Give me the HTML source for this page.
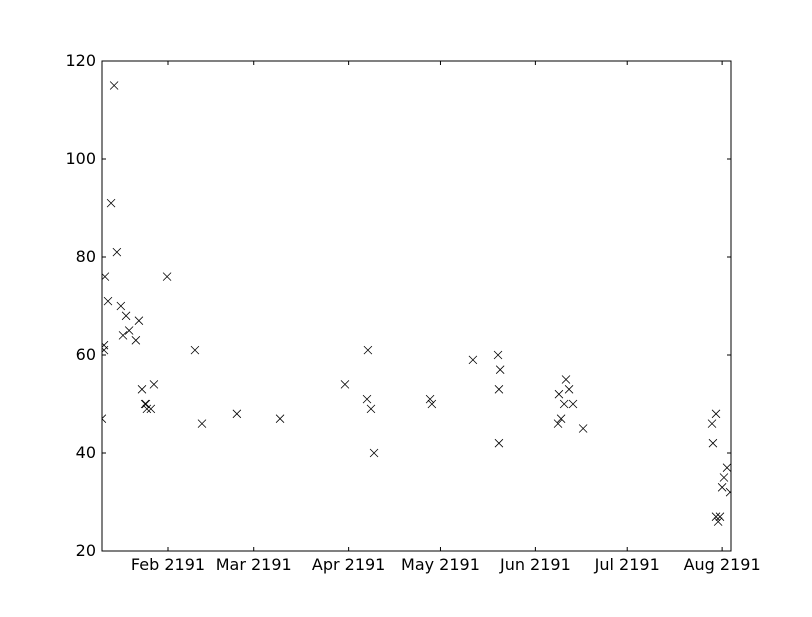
<!DOCTYPE html>
<html><head><meta charset="utf-8"><style>
html,body{margin:0;padding:0;background:#fff;}
svg text{font-family:"DejaVu Sans","Liberation Sans",sans-serif;font-size:16px;fill:#000;}
</style></head><body>
<svg id="chart" width="812" height="612" xmlns="http://www.w3.org/2000/svg">
<defs><clipPath id="plotclip"><rect x="102" y="61" width="629" height="490"/></clipPath></defs>
<rect width="812" height="612" fill="#fff"/>
<g id="marks" clip-path="url(#plotclip)"></g>
<g id="axes"></g>
</svg>
<script>
// day-of-year 2191 (0 = Jan 1)
const days = [9.4,10.1,10.1,10.4,11.4,12.4,13.4,14.3,15.6,16.3,17.3,18.3,20.5,21.5,22.5,23.5,23.8,24.1,25.4,26.4,30.7,39.8,42.1,53.5,67.6,88.8,96,96.3,97.3,98.3,116.6,117.2,130.6,138.8,139.1,139.1,139.5,158.4,158.7,159.4,160.4,161,162,163.3,166.6,208.7,209,210,210,210.7,211.3,212,212.6,213.6,214.6];
const values = [47,61,62,76,71,91,115,81,70,64,68,65,63,67,53,50,50,49,49,54,76,61,46,48,47,54,51,61,49,40,51,50,59,60,42,53,57,46,52,47,50,55,53,50,45,46,42,48,27,26,27,33,35,37,32];
const yTicks = [20,40,60,80,100,120];
const xTickDays = [31,59,90,120,151,181,212];
const xTickLabels = ["Feb 2191","Mar 2191","Apr 2191","May 2191","Jun 2191","Jul 2191","Aug 2191"];

const L=102,R=731,T=61,B=551;
const xMin=9.44,xMax=214.9,yMin=20,yMax=120;
const xs=d=>L+(d-xMin)/(xMax-xMin)*(R-L);
const ys=v=>B-(v-yMin)/(yMax-yMin)*(B-T);
const NS="http://www.w3.org/2000/svg";
function mk(tag,attrs,parent){const e=document.createElementNS(NS,tag);for(const k in attrs)e.setAttribute(k,attrs[k]);parent.appendChild(e);return e;}
const marks=document.getElementById('marks');
const axes=document.getElementById('axes');
days.forEach((d,i)=>{
  const x=xs(d),y=ys(values[i]),s=4;
  const p=mk('path',{d:`M${x-s},${y-s}L${x+s},${y+s}M${x-s},${y+s}L${x+s},${y-s}`,stroke:'#000','stroke-width':0.8,fill:'none'},marks);
  
  
});
const frame=mk('rect',{x:L,y:T,width:R-L,height:B-T,fill:'none',stroke:'#000','stroke-width':1},axes);


yTicks.forEach(v=>{
  const y=ys(v);
  mk('line',{x1:L,x2:L+4,y1:y,y2:y,stroke:'#000'},axes);
  mk('line',{x1:R,x2:R-4,y1:y,y2:y,stroke:'#000'},axes);
  const t=mk('text',{x:L-6,y:y+5,'text-anchor':'end'},axes);
  t.textContent=v;
  
  
});
xTickDays.forEach((d,i)=>{
  const x=xs(d);
  mk('line',{x1:x,x2:x,y1:B,y2:B-4,stroke:'#000'},axes);
  mk('line',{x1:x,x2:x,y1:T,y2:T+4,stroke:'#000'},axes);
  const t=mk('text',{x:x,y:B+19,'text-anchor':'middle'},axes);
  t.textContent=xTickLabels[i];
  
  
});
</script>
</body></html>
